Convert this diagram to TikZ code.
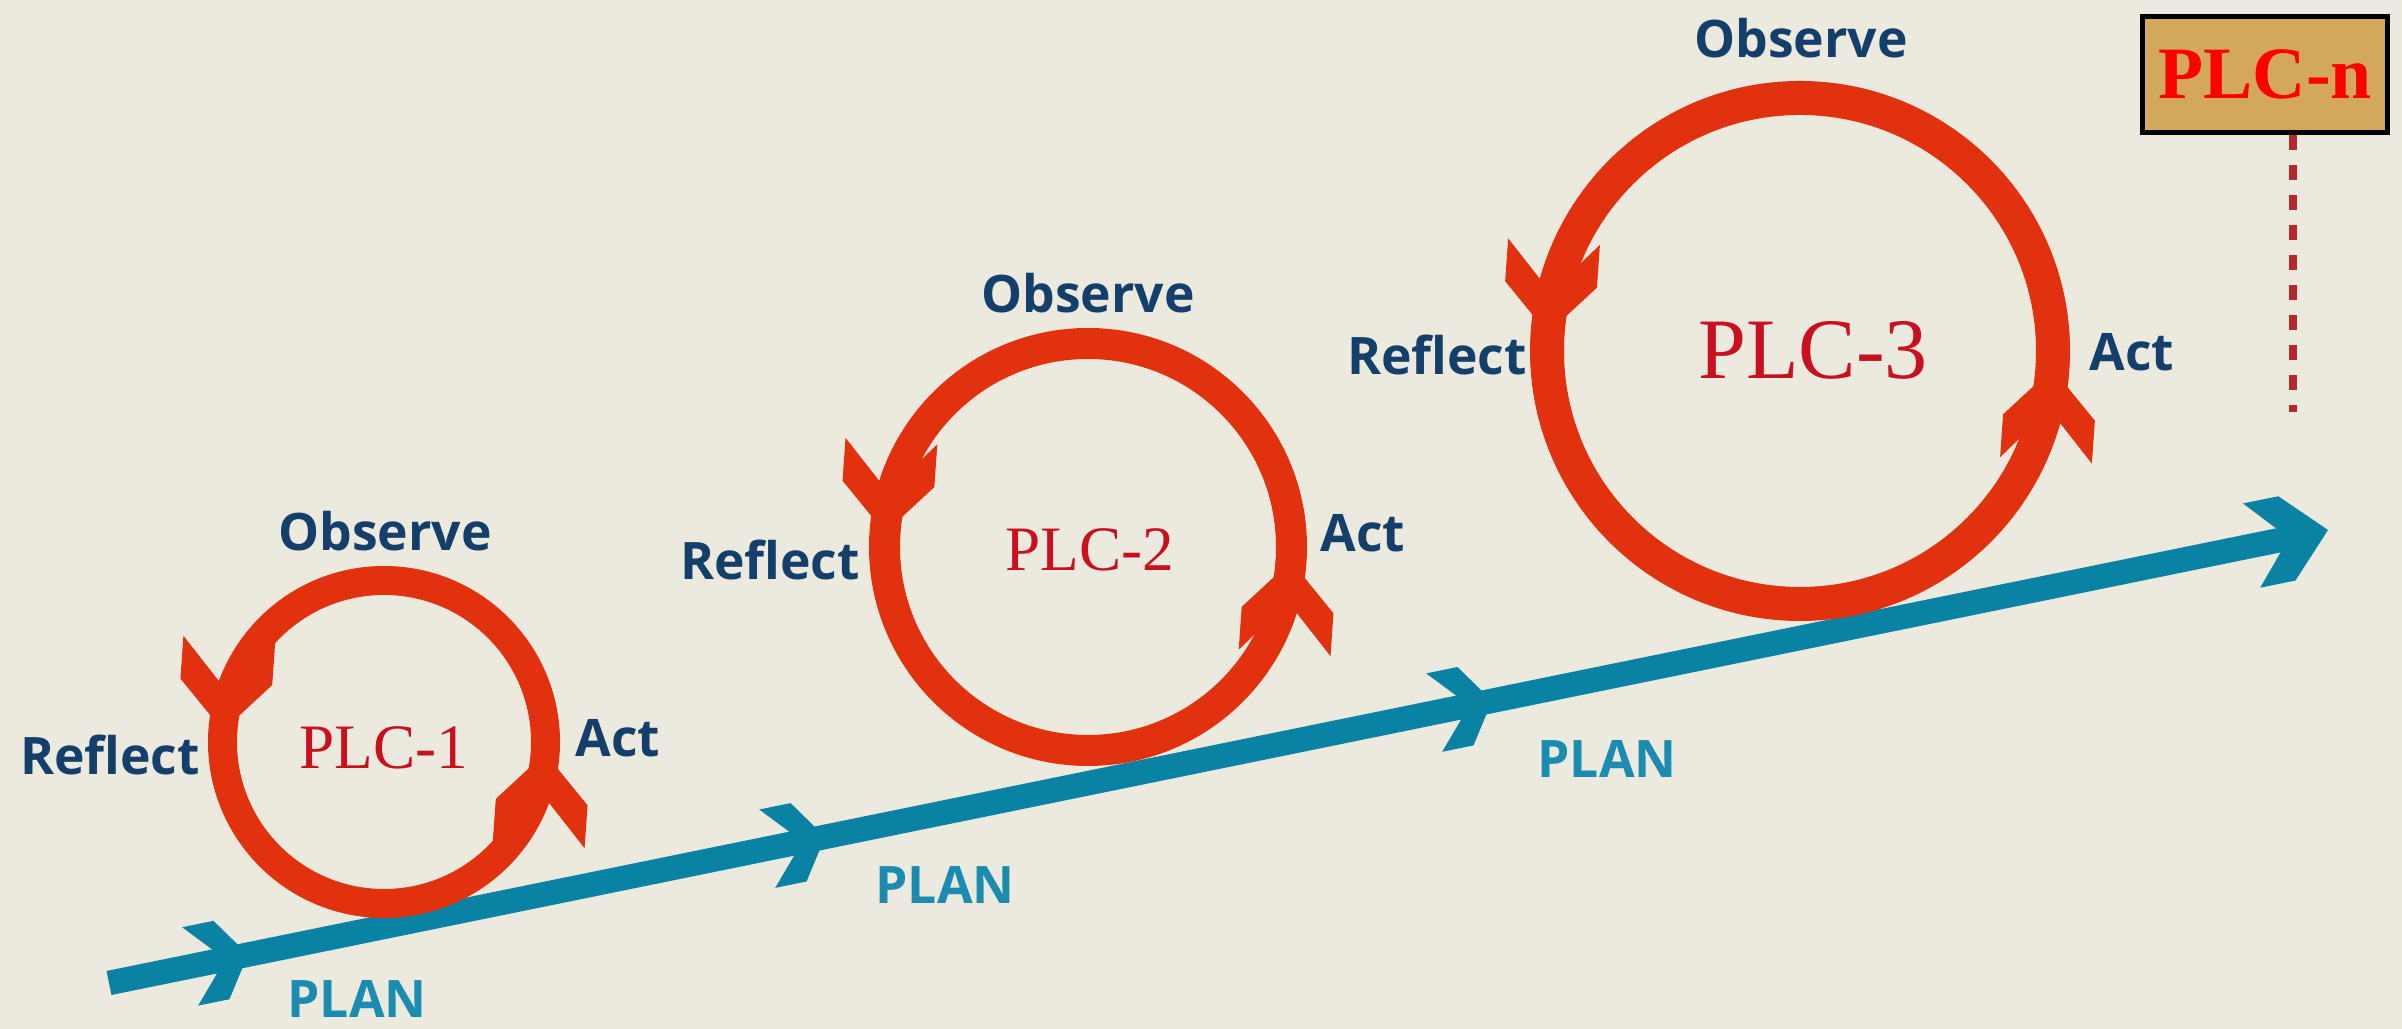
\documentclass[tikz,border=0pt]{standalone}
\usepackage{fontspec}
\newfontfamily\labelfont{Open Sans}
\newfontfamily\plcfont{Liberation Serif}
\usetikzlibrary{positioning}

\definecolor{paper}{HTML}{ECEADF}
\definecolor{ringred}{HTML}{E2310F}
\definecolor{planblue}{HTML}{0A82A3}
\definecolor{stagenavy}{HTML}{143F6B}
\definecolor{planteal}{HTML}{1C8BB0}
\definecolor{plcred}{HTML}{C8101E}
\definecolor{boxtan}{HTML}{D4A85A}
\definecolor{dashred}{HTML}{B5272D}

\tikzset{
	stage/.style={font=\labelfont\bfseries\fontsize{14.7}{17}\selectfont, text=stagenavy, anchor=base, inner sep=0pt},
	plan/.style={stage, text=planteal},
	cyclename/.style={font=\plcfont\fontsize{18}{21}\selectfont, text=plcred, anchor=base, inner sep=0pt},
	ring/.style={draw=ringred},
	planline/.style={draw=planblue, line width=0.245cm},
	chev/.pic={\fill (0,0) -- (-0.49,0.46) -- (-0.92,0.46) -- (-0.41,0) -- (-0.92,-0.46) -- (-0.49,-0.46) -- cycle;},
	smallchev/.pic={\fill (0,0) -- (-0.27,0.40) -- (-0.59,0.40) -- (-0.23,0) -- (-0.59,-0.40) -- (-0.27,-0.40) -- cycle;},
	headchev/.pic={\fill (0,0) -- (-0.42,0.43) -- (-0.78,0.43) -- (-0.40,0) -- (-0.78,-0.43) -- (-0.42,-0.43) -- cycle;}
}

\begin{document}
\begin{tikzpicture}
	\fill[paper] (0,0) rectangle (24.02,10.29);
	\useasboundingbox (0,0) rectangle (24.02,10.29);

	% the plan line
	\coordinate (pstart) at (1.09,0.46);
	\coordinate (pend) at (22.90,4.91);
	\coordinate (ptip) at (23.28,4.99);
	\draw[planline] (pstart) -- (pend) coordinate[pos=0.0637] (m1) coordinate[pos=0.3283] (m2) coordinate[pos=0.6341] (m3);
	\foreach \m in {m1,m2,m3}
		\path (\m) pic[planblue, rotate=11.54] {smallchev};
	\path (ptip) pic[planblue, rotate=11.54] {headchev};

	% the cycles
	\coordinate (c1) at (3.84,2.87);
	\coordinate (c2) at (10.88,4.82);
	\coordinate (c3) at (18.00,6.78);
	\foreach \c/\r/\w in {c1/1.615/0.29, c2/2.035/0.31, c3/2.53/0.34}{
		\draw[ring, line width=\w cm] (\c) circle (\r);
		\path (\c) ++(176:\r) pic[ringred, rotate=266] {chev};
		\path (\c) ++(-4:\r) pic[ringred, rotate=86] {chev};
	}

	\node[stage] (obs1) at (3.85,4.78) {Observe};
	\node[stage] (ref1) at (1.10,2.54) {Reflect};
	\node[stage] (act1) at (6.18,2.72) {Act};
	\node[plan] (plan1) at (3.57,0.11) {PLAN};
	\node[cyclename] (plc1) at (3.84,2.60) {PLC-1};

	\node[stage] (obs2) at (10.88,7.16) {Observe};
	\node[stage] (ref2) at (7.70,4.49) {Reflect};
	\node[stage] (act2) at (13.63,4.77) {Act};
	\node[plan] (plan2) at (9.45,1.25) {PLAN};
	\node[cyclename] (plc2) at (10.90,4.58) {PLC-2};

	\node[stage] (obs3) at (18.01,9.71) {Observe};
	\node[stage] (ref3) at (14.37,6.54) {Reflect};
	\node[stage] (act3) at (21.32,6.58) {Act};
	\node[plan] (plan3) at (16.07,2.51) {PLAN};
	\node[cyclename, font=\plcfont\fontsize{24.5}{28}\selectfont] (plc3) at (18.13,6.50) {PLC-3};

	% the n-th cycle
	\node[draw=black, line width=0.05cm, fill=boxtan, minimum width=2.45cm, minimum height=1.16cm, inner sep=0pt,
		font=\plcfont\bfseries\fontsize{21}{24}\selectfont, text=red] (plcn) at (22.65,9.545) {PLC-n};
	\coordinate (nfoot) at (22.93,6.17);
	\draw[dashred, line width=0.08cm, dash pattern=on 0.15cm off 0.15cm] (plcn.south -| nfoot) -- (nfoot);
\end{tikzpicture}
\end{document}
